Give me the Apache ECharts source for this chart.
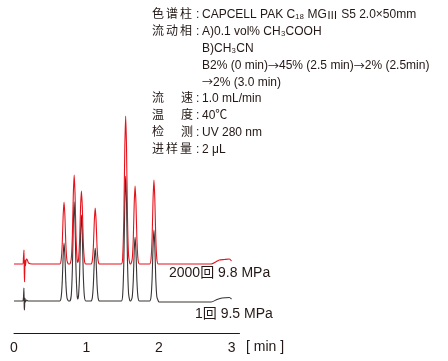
<!DOCTYPE html>
<html><head><meta charset="utf-8">
<script src="https://cdn.jsdelivr.net/npm/echarts@6/dist/echarts.min.js"></script>
<style>html,body{margin:0;padding:0;background:#fff}#c{width:448px;height:361px}</style>
</head><body><div id="c"></div>
<script>
// x tick labels (min)
const xTicks = [0, 1, 2, 3];
// 2000 injections trace (time [min], signal) – baseline 0
const trace2000 = [
 [0,0],[0.12,0],[0.13,6],[0.138,14],[0.142,-10],[0.146,-18],[0.152,4],[0.158,-2],[0.17,5],[0.185,4],[0.2,1],[0.25,0],
 [0.63,0],[0.65,3.7],[0.665,19.8],[0.678,48.4],[0.69,62],[0.702,48.4],[0.715,19.8],[0.73,3.7],[0.75,0],
 [0.77,0],[0.79,5.3],[0.805,28.5],[0.818,69.4],[0.83,89],[0.842,69.4],[0.855,28.5],[0.87,5.3],[0.88,1.5],
 [0.89,4.4],[0.905,23.4],[0.918,56.9],[0.93,73],[0.942,56.9],[0.955,23.4],[0.97,4.4],[0.99,0],
 [1.06,0],[1.08,3.4],[1.095,17.9],[1.108,43.7],[1.12,56],[1.132,43.7],[1.145,17.9],[1.16,3.4],[1.18,0],
 [1.48,0],[1.5,8.9],[1.515,47.4],[1.528,115.4],[1.54,148],[1.552,115.4],[1.565,47.4],[1.58,8.9],[1.6,0],
 [1.61,0],[1.63,4.7],[1.645,25],[1.658,60.8],[1.67,78],[1.682,60.8],[1.695,25],[1.71,4.7],[1.73,0],
 [1.87,0],[1.89,5],[1.905,26.9],[1.918,65.5],[1.93,84],[1.942,65.5],[1.955,26.9],[1.97,5],[1.99,0],
 [2.72,0],[2.78,2],[2.83,4],[2.9,4.5],[2.97,5],[3.0,3]
];
// 1st injection trace
const trace1 = [
 [0,0],[0.12,0],[0.13,3],[0.137,13],[0.141,-6],[0.145,-9],[0.15,3],[0.16,-1],[0.17,1],[0.2,0],
 [0.63,0],[0.65,3.5],[0.665,18.6],[0.678,45.2],[0.69,58],[0.702,45.2],[0.715,18.6],[0.73,3.5],[0.75,0],
 [0.77,0],[0.79,5.9],[0.805,31.7],[0.818,77.2],[0.83,99],[0.842,77.2],[0.855,31.7],[0.87,5.9],[0.88,2],
 [0.89,5.2],[0.905,27.5],[0.918,67.1],[0.93,86],[0.942,67.1],[0.955,27.5],[0.97,5.2],[0.99,0],
 [1.06,0],[1.08,3.2],[1.095,17],[1.108,41.3],[1.12,53],[1.132,41.3],[1.145,17],[1.16,3.2],[1.18,0],
 [1.48,0],[1.5,7.5],[1.515,40],[1.528,97.5],[1.54,125],[1.552,97.5],[1.565,40],[1.58,7.5],[1.6,0],
 [1.61,0],[1.63,3.8],[1.645,20.5],[1.658,49.9],[1.67,64],[1.682,49.9],[1.695,20.5],[1.71,3.8],[1.73,0],
 [1.87,0],[1.89,4.3],[1.905,22.7],[1.918,55.4],[1.93,71],[1.942,55.4],[1.955,22.7],[1.97,4.3],[1.99,0],
 [2.0,-1],[2.72,-1],[2.8,1.5],[2.87,3],[2.97,3.5],[3.0,2]
];
const seriesNames = ['2000回 9.8 MPa', '1回 9.5 MPa'];
const redOffset = 37;

const infoLabels = ['色谱柱','流动相','','','','流速','温度','检测','进样量'];
const infoValues = [
 'CAPCELL PAK C₁₈ MGⅢ S5 2.0×50mm',
 'A)0.1 vol% CH₃COOH',
 'B)CH₃CN',
 'B2% (0 min)→45% (2.5 min)→2% (2.5min)',
 '→2% (3.0 min)',
 '1.0 mL/min',
 '40℃',
 'UV 280 nm',
 '2 μL'
];

const FONT = '"Liberation Sans","Noto Sans CJK SC",sans-serif';
const CJK = '"Noto Sans CJK SC",sans-serif';
const INK = '#231815';
const chart = echarts.init(document.getElementById('c'), null, {renderer:'canvas'});

function richify(s) {
  return s.replace(/→/g, '{a|→}').replace(/Ⅲ/g, '{r|Ⅲ}');
}
const richStyles = {
  a: {fontFamily: CJK, fontSize: 11, fill: INK},
  r: {fontFamily: CJK, fontSize: 11, fill: INK}
};

const graphics = [];
infoLabels.forEach((lab, i) => {
  const y = 15.5 + i * 16.8;
  const chars = lab.split('');
  if (chars.length) {
    const xs = chars.length === 3 ? [152, 166, 180] : [152, 181];
    chars.forEach((ch, k) => graphics.push({type:'text', left: xs[k], top: y - 6.5,
      style:{text: ch, font: '12px ' + FONT, fill: INK}}));
    graphics.push({type:'text', left:196, top:y-6.5, style:{text:':', font:'12px '+FONT, fill:INK}});
  }
  graphics.push({type:'text', left: 202, top: y - 6.5,
    style:{text: richify(infoValues[i]), font: '12px ' + FONT, fill: INK, rich: richStyles}});
});
graphics.push({type:'text', left:169, top:266.5, style:{text: seriesNames[0], font:'14px '+FONT, fill:INK}});
graphics.push({type:'text', left:195, top:307.5, style:{text: seriesNames[1], font:'14px '+FONT, fill:INK}});
graphics.push({type:'text', left:246, top:340, style:{text:'[ min ]', font:'14px '+FONT, fill:INK}});

chart.setOption({
  animation:false,
  grid:{left:14, right:208.5, top:33, bottom:28, containLabel:false},
  xAxis:{type:'value', min:0, max:3.11, interval:1,
    axisLine:{onZero:false, lineStyle:{color:INK, width:1}}, axisTick:{show:false}, splitLine:{show:false},
    axisLabel:{color:INK, fontSize:14, fontFamily:FONT, margin:8,
      formatter: v => xTicks.includes(v) ? String(v) : ''}},
  yAxis:{type:'value', min:-32, max:268, show:false},
  series:[
    {name:seriesNames[1], type:'line', data:trace1, showSymbol:false, smooth:0.2,
      lineStyle:{color:'#3a3434', width:1.1}, z:2},
    {name:seriesNames[0], type:'line', data:trace2000.map(p => [p[0], p[1] + redOffset]), showSymbol:false, smooth:0.2,
      lineStyle:{color:'#e5121c', width:1.1}, z:3}
  ],
  graphic: graphics
});
</script></body></html>
